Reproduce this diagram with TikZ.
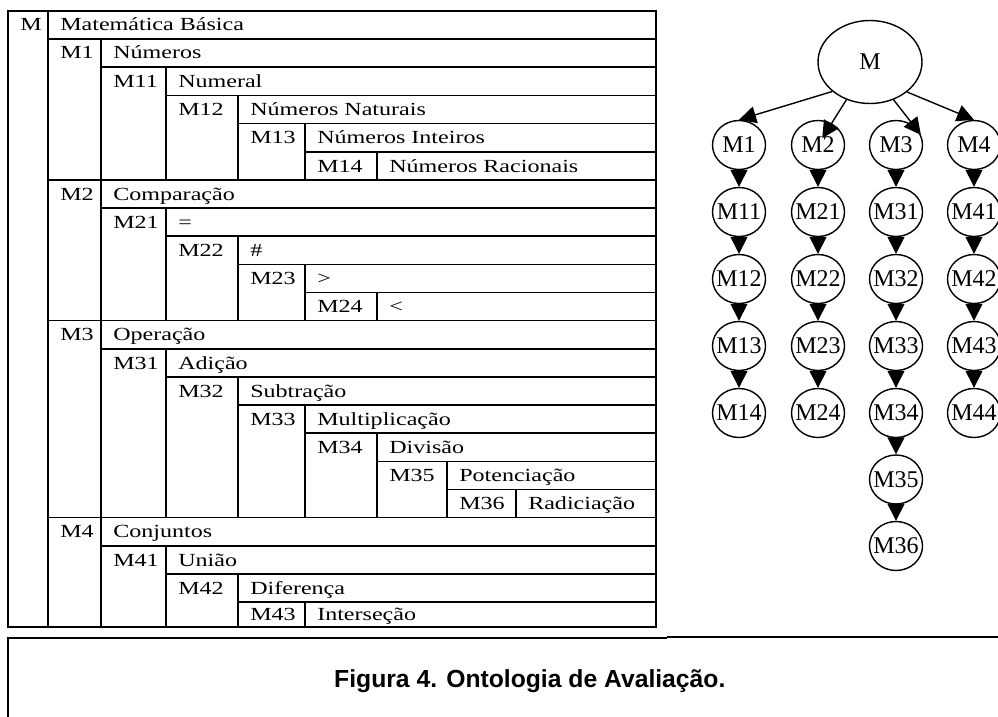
\documentclass[tikz,border=0pt]{standalone}
\usepackage{fontspec}
\setmainfont{Liberation Serif}
\newfontfamily\capfont{Liberation Sans}
\usetikzlibrary{arrows.meta, shapes.geometric}

\begin{document}
\begin{tikzpicture}[
	x=1pt, y=-1pt,
	% --- Styles ---
	grid/.style={
		draw, line width=1.6pt
	},
	cell/.style={
		anchor=base west, inner sep=0pt, xscale=1.3, font=\fontsize{18.5}{20}\selectfont
	},
	% Root of the tree
	root/.style={
		ellipse, draw, line width=1.4pt, minimum width=104pt, minimum height=83pt,
		inner sep=0pt, font=\fontsize{24}{26}\selectfont
	},
	tnode/.style={
		ellipse, draw, line width=1.4pt, minimum width=53pt, minimum height=49pt,
		inner xsep=-16pt, inner ysep=0pt, font=\fontsize{24}{26}\selectfont
	},
	edge/.style={
		draw, line width=1.4pt, -{Triangle[length=17pt, width=17pt]}
	},
	caption/.style={
		anchor=base west, inner sep=0pt, font=\capfont\bfseries\fontsize{24.7}{26}\selectfont
	}
	]
	
	\useasboundingbox (0,0) rectangle (998,717);
	\clip (0,0) rectangle (998,717);
	
	% --- 1. Table frame ---
	\draw[grid] (8,11) rectangle (656,627);
	\draw[grid] (48,11) -- (48,627);
	
	% --- 2. Table rules (row line + label column) ---
	% M1 group
	\draw[grid] (48,39) -- (656,39) (101,39) -- (101,180);
	\draw[grid] (101,67) -- (656,67) (166,67) -- (166,180);
	\draw[grid] (166,95.5) -- (656,95.5) (238,95.5) -- (238,180);
	\draw[grid] (238,123.5) -- (656,123.5) (305,123.5) -- (305,180);
	\draw[grid] (305,152) -- (656,152) (377,152) -- (377,180);
	% M2 group
	\draw[grid] (48,180) -- (656,180) (101,180) -- (101,320.5);
	\draw[grid] (101,208) -- (656,208) (166,208) -- (166,320.5);
	\draw[grid] (166,236) -- (656,236) (238,236) -- (238,320.5);
	\draw[grid] (238,264.5) -- (656,264.5) (305,264.5) -- (305,320.5);
	\draw[grid] (305,292.5) -- (656,292.5) (377,292.5) -- (377,320.5);
	% M3 group
	\draw[grid] (48,320.5) -- (656,320.5) (101,320.5) -- (101,517.5);
	\draw[grid] (101,349) -- (656,349) (166,349) -- (166,517.5);
	\draw[grid] (166,377) -- (656,377) (238,377) -- (238,517.5);
	\draw[grid] (238,405) -- (656,405) (305,405) -- (305,517.5);
	\draw[grid] (305,433) -- (656,433) (377,433) -- (377,517.5);
	\draw[grid] (377,461.5) -- (656,461.5) (447,461.5) -- (447,517.5);
	\draw[grid] (447,489.5) -- (656,489.5) (516,489.5) -- (516,517.5);
	% M4 group
	\draw[grid] (48,517.5) -- (656,517.5) (101,517.5) -- (101,627);
	\draw[grid] (101,546) -- (656,546) (166,546) -- (166,627);
	\draw[grid] (166,574) -- (656,574) (238,574) -- (238,627);
	\draw[grid] (238,602) -- (656,602) (305,602) -- (305,627);
	
	% --- 3. Table texts ---
	\node[cell] (lbM) at (20,31) {M};
	\node[cell] (txM) at (60,31) {Matemática Básica};
	
	\node[cell] (lbM1) at (60,59) {M1};
	\node[cell] (txM1) at (113,59) {Números};
	\node[cell] (lbM11) at (113,87) {M11};
	\node[cell] (txM11) at (178,87) {Numeral};
	\node[cell] (lbM12) at (178,115.5) {M12};
	\node[cell] (txM12) at (250,115.5) {Números Naturais};
	\node[cell] (lbM13) at (250,143.5) {M13};
	\node[cell] (txM13) at (317,143.5) {Números Inteiros};
	\node[cell] (lbM14) at (317,172) {M14};
	\node[cell] (txM14) at (389,172) {Números Racionais};
	
	\node[cell] (lbM2) at (60,200) {M2};
	\node[cell] (txM2) at (113,200) {Comparação};
	\node[cell] (lbM21) at (113,228) {M21};
	\node[cell] (txM21) at (178,228) {=};
	\node[cell] (lbM22) at (178,256) {M22};
	\node[cell] (txM22) at (250,256) {\#};
	\node[cell] (lbM23) at (250,284.5) {M23};
	\node[cell] (txM23) at (317,284.5) {>};
	\node[cell] (lbM24) at (317,312.5) {M24};
	\node[cell] (txM24) at (389,312.5) {<};
	
	\node[cell] (lbM3) at (60,340.5) {M3};
	\node[cell] (txM3) at (113,340.5) {Operação};
	\node[cell] (lbM31) at (113,369) {M31};
	\node[cell] (txM31) at (178,369) {Adição};
	\node[cell] (lbM32) at (178,397) {M32};
	\node[cell] (txM32) at (250,397) {Subtração};
	\node[cell] (lbM33) at (250,425) {M33};
	\node[cell] (txM33) at (317,425) {Multiplicação};
	\node[cell] (lbM34) at (317,453) {M34};
	\node[cell] (txM34) at (389,453) {Divisão};
	\node[cell] (lbM35) at (389,481.5) {M35};
	\node[cell] (txM35) at (459,481.5) {Potenciação};
	\node[cell] (lbM36) at (459,509.5) {M36};
	\node[cell] (txM36) at (528,509.5) {Radiciação};
	
	\node[cell] (lbM4) at (60,537.5) {M4};
	\node[cell] (txM4) at (113,537.5) {Conjuntos};
	\node[cell] (lbM41) at (113,566) {M41};
	\node[cell] (txM41) at (178,566) {União};
	\node[cell] (lbM42) at (178,594) {M42};
	\node[cell] (txM42) at (250,594) {Diferença};
	\node[cell] (lbM43) at (250,620) {M43};
	\node[cell] (txM43) at (317,620) {Interseção};
	
	% --- 4. Tree ---
	\node[root] (M) at (870,62) {M};
	
	\node[tnode] (M1) at (739,145) {M1};
	\node[tnode] (M11) at (739,212) {M11};
	\node[tnode] (M12) at (739,279) {M12};
	\node[tnode] (M13) at (739,346) {M13};
	\node[tnode] (M14) at (739,413) {M14};
	
	\node[tnode] (M2) at (818,145) {M2};
	\node[tnode] (M21) at (818,212) {M21};
	\node[tnode] (M22) at (818,279) {M22};
	\node[tnode] (M23) at (818,346) {M23};
	\node[tnode] (M24) at (818,413) {M24};
	
	\node[tnode] (M3) at (896,145) {M3};
	\node[tnode] (M31) at (896,212) {M31};
	\node[tnode] (M32) at (896,279) {M32};
	\node[tnode] (M33) at (896,346) {M33};
	\node[tnode] (M34) at (896,413) {M34};
	\node[tnode] (M35) at (896,479.5) {M35};
	\node[tnode] (M36) at (896,546) {M36};
	
	\node[tnode] (M4) at (974,145) {M4};
	\node[tnode] (M41) at (974,212) {M41};
	\node[tnode] (M42) at (974,279) {M42};
	\node[tnode] (M43) at (974,346) {M43};
	\node[tnode] (M44) at (974,413) {M44};
	
	% Root arrows
	\draw[edge] (M.218) -- (M1.north);
	\draw[edge, shorten >=8pt] (M.238) -- (M2.center);
	\draw[edge] (M.302) -- (M3.22);
	\draw[edge] (M.321) -- (M4.north);
	
	% Chains
	\draw[edge] (M1) -- (M11);
	\draw[edge] (M11) -- (M12);
	\draw[edge] (M12) -- (M13);
	\draw[edge] (M13) -- (M14);
	\draw[edge] (M2) -- (M21);
	\draw[edge] (M21) -- (M22);
	\draw[edge] (M22) -- (M23);
	\draw[edge] (M23) -- (M24);
	\draw[edge] (M3) -- (M31);
	\draw[edge] (M31) -- (M32);
	\draw[edge] (M32) -- (M33);
	\draw[edge] (M33) -- (M34);
	\draw[edge] (M34) -- (M35);
	\draw[edge] (M35) -- (M36);
	\draw[edge] (M4) -- (M41);
	\draw[edge] (M41) -- (M42);
	\draw[edge] (M42) -- (M43);
	\draw[edge] (M43) -- (M44);
	
	% --- 5. Caption box ---
	\draw[line width=1.2pt] (8,717) -- (8,638) -- (667,638);
	\draw[line width=1.8pt] (667,637) -- (998,637);
	\node[caption] (fig) at (334,687) {Figura 4. Ontologia de Avaliação.};
	
\end{tikzpicture}
\end{document}
